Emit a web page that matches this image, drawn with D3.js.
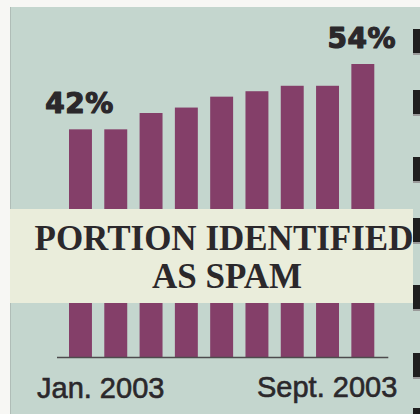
<!DOCTYPE html>
<html>
<head>
<meta charset="utf-8">
<script src="https://cdn.jsdelivr.net/npm/d3@7/dist/d3.min.js"></script>
<style>
  html, body { margin: 0; padding: 0; background: #f7f7f4; }
  svg { display: block; }
</style>
</head>
<body>
<svg id="chart" width="420" height="414"></svg>
<script>
// ---- data ----
const months = ["Jan. 2003", "Feb. 2003", "Mar. 2003", "Apr. 2003", "May 2003",
                "June 2003", "July 2003", "Aug. 2003", "Sept. 2003"];
const spamShare = [42, 42, 45, 46, 48, 49, 50, 50, 54];
const valueLabels = ["42%", "54%"];          // shown above first and last bar
const axisLabels = ["Jan. 2003", "Sept. 2003"];
const titleLines = ["PORTION IDENTIFIED", "AS SPAM"];

// ---- setup ----
const W = 420, H = 414;
const svg = d3.select("#chart");

const colors = {
  page: "#f7f7f4",
  panel: "#c4d6ce",
  bar: "#843f69",
  band: "#eaeddb",
  text: "#2b282b",
  rule: "#4d4b4d",
  mark: "#1f1f1f"
};

// panel background
svg.append("rect").attr("x", 10).attr("y", 7).attr("width", W - 10).attr("height", H - 7)
  .attr("fill", colors.panel);
svg.append("line").attr("x1", 10.5).attr("x2", 10.5).attr("y1", 7).attr("y2", H)
  .attr("stroke", "#b0bdb7").attr("stroke-width", 1);

const baseY = 358;
const x = d3.scaleBand().domain(d3.range(months.length))
  .range([69, 374.3]).paddingInner(0.35).paddingOuter(0);
const y = d3.scaleLinear().domain([0, 54]).range([baseY, 64]);

// bars
svg.append("g").selectAll("rect").data(spamShare).join("rect")
  .attr("x", (d, i) => x(i))
  .attr("width", x.bandwidth())
  .attr("y", d => y(d))
  .attr("height", d => y(0) - y(d))
  .attr("fill", colors.bar);

// baseline rule
svg.append("line")
  .attr("x1", x(0) - 12).attr("x2", x(months.length - 1) + x.bandwidth() + 14)
  .attr("y1", y(0) - 0.5).attr("y2", y(0) - 0.5)
  .attr("stroke", colors.rule).attr("stroke-width", 1.6);

// value labels over first and last bars
const labelIdx = [0, spamShare.length - 1];
svg.append("g").selectAll("text").data(labelIdx).join("text")
  .attr("x", i => x(i) + x.bandwidth() / 2 - 1)
  .attr("y", i => y(spamShare[i]) - 16)
  .attr("text-anchor", "middle")
  .attr("font-family", "'DejaVu Sans', sans-serif")
  .attr("font-weight", "bold")
  .attr("font-size", 28)
  .attr("fill", colors.text)
  .attr("stroke", colors.text).attr("stroke-width", 1.2).attr("stroke-linejoin", "round")
  .attr("letter-spacing", 0.5)
  .text((i, k) => valueLabels[k]);

// cream band with title
svg.append("rect").attr("x", 10).attr("y", 209).attr("width", 403).attr("height", 94)
  .attr("fill", colors.band);
svg.append("g").selectAll("text").data(titleLines).join("text")
  .attr("x", (d, i) => i === 0 ? 224 : 227)
  .attr("y", (d, i) => 250 + i * 38)
  .attr("text-anchor", "middle")
  .attr("font-family", "'Liberation Serif', 'Times New Roman', serif")
  .attr("font-weight", "bold")
  .attr("font-size", 35)
  .attr("fill", colors.text)
  .text(d => d);

// axis labels
svg.append("text")
  .attr("x", x(0) - 32).attr("y", 398)
  .attr("text-anchor", "start")
  .attr("font-family", "'Liberation Sans', Arial, sans-serif")
  .attr("font-size", 29)
  .attr("fill", colors.text).attr("stroke", colors.text).attr("stroke-width", 0.6)
  .text(axisLabels[0]);
svg.append("text")
  .attr("x", x(months.length - 1) + x.bandwidth() + 23).attr("y", 397)
  .attr("text-anchor", "end")
  .attr("font-family", "'Liberation Sans', Arial, sans-serif")
  .attr("font-size", 29)
  .attr("fill", colors.text).attr("stroke", colors.text).attr("stroke-width", 0.6)
  .text(axisLabels[1]);

// registration marks at the right page edge (decoration)
const edgeMarks = [29, 90, 157, 218, 285, 353, 408];
svg.append("g").selectAll("rect").data(edgeMarks).join("rect")
  .attr("x", 413).attr("y", d => d).attr("width", 7).attr("height", 26)
  .attr("fill", colors.mark);
svg.append("g").selectAll("rect").data(edgeMarks).join("rect")
  .attr("x", 413).attr("y", d => d + 24).attr("width", 7).attr("height", 2)
  .attr("fill", "#9a9a9a");
</script>
</body>
</html>
